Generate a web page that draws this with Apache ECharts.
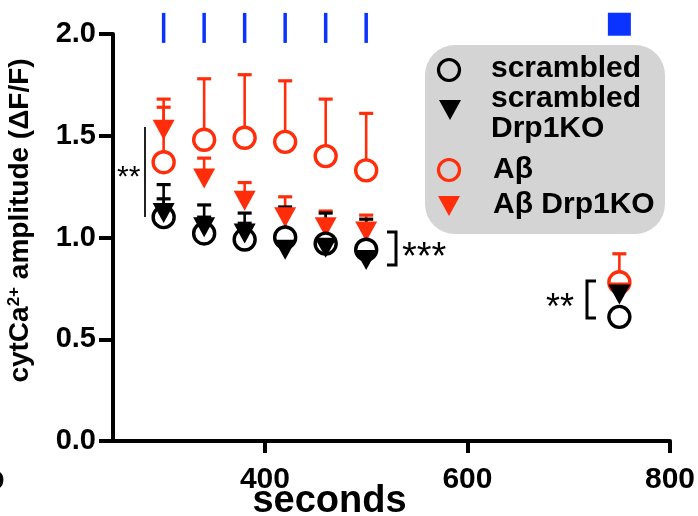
<!DOCTYPE html>
<html><head><meta charset="utf-8">
<script src="https://cdn.jsdelivr.net/npm/echarts@6/dist/echarts.min.js"></script>
<style>html,body{margin:0;padding:0;background:#fff}#c{width:698px;height:516px}</style>
</head><body><div id="c"></div>
<script>
// ---- data ----
const seconds = [300, 340, 380, 420, 460, 500, 750];
const scrambled      = [1.10, 1.02, 0.99, 1.00, 0.97, 0.94, 0.61];
const scrambledTop   = [1.26, 1.16, 1.12, 1.15, 1.12, 1.09, 0.64];
const scrambledKO    = [1.12, 1.05, 1.02, 0.94, 0.95, 0.89, 0.72];
const scrambledKOTop = [1.19, 1.10, 1.07, 1.02, 0.99, 0.95, 0.74];
const abeta          = [1.37, 1.48, 1.49, 1.47, 1.40, 1.33, 0.78];
const abetaTop       = [1.68, 1.78, 1.80, 1.77, 1.68, 1.61, 0.92];
const abetaKO        = [1.53, 1.29, 1.18, 1.10, 1.05, 1.03, 0.73];
const abetaKOTop     = [1.64, 1.39, 1.27, 1.20, 1.13, 1.11, 0.76];
const stimTimes = [300, 340, 380, 420, 460, 500];
const stimSquare = [750];
const xTicks = [400, 600, 800];

const RED = '#ff2d0a', BLACK = '#000', BLUE = '#0a33ff';
const FONT = '"Liberation Sans", Arial, sans-serif';

function pairs(xs, ys){ return xs.map((x,i)=>[x, ys[i]]); }
function errData(xs, ys, tops){ return xs.map((x,i)=>[x, ys[i], tops[i]]); }

function errSeries(name, xs, ys, tops, color){
  return {
    type:'custom', name: name+'-err', silent:true, z:2,
    data: errData(xs, ys, tops),
    renderItem:function(params, api){
      const p0 = api.coord([api.value(0), api.value(1)]);
      const p1 = api.coord([api.value(0), api.value(2)]);
      return {type:'group', children:[
        {type:'line', shape:{x1:p0[0], y1:p0[1], x2:p1[0], y2:p1[1]}, style:{stroke:color, lineWidth:2.6}},
        {type:'line', shape:{x1:p1[0]-7, y1:p1[1], x2:p1[0]+7, y2:p1[1]}, style:{stroke:color, lineWidth:3.2}}
      ]};
    }
  };
}
function circSeries(name, xs, ys, color){
  return {type:'scatter', name, data:pairs(xs,ys), symbol:'circle', symbolSize:21, z:3,
    itemStyle:{color:'#fff', borderColor:color, borderWidth:3.4, opacity:1}};
}
function triSeries(name, xs, ys, color){
  return {type:'scatter', name, data:pairs(xs,ys), symbol:'triangle', symbolRotate:180, symbolSize:[22,20], z:3,
    itemStyle:{color:color, opacity:1}};
}

const chart = echarts.init(document.getElementById('c'), null, {renderer:'canvas'});
const option = {
  animation:false,
  grid:{left:113, right:28, top:34, bottom:75, containLabel:false, outerBoundsMode:'none'},
  xAxis:{type:'value', min:250, max:800,
    axisLine:{show:true, onZero:false, lineStyle:{color:'#000', width:4}},
    axisTick:{show:true, length:12, lineStyle:{color:'#000', width:4}, customValues:xTicks},
    axisLabel:{customValues:xTicks, margin:24, color:'#000', fontFamily:FONT, fontWeight:'bold', fontSize:30},
    splitLine:{show:false},
    name:'seconds', nameLocation:'middle', nameGap:42, nameMoveOverlap:false,
    nameTextStyle:{color:'#000', fontFamily:FONT, fontWeight:'bold', fontSize:38, verticalAlign:'top', padding:[0,124,0,0]}
  },
  yAxis:{type:'value', min:0, max:2, interval:0.5,
    axisLine:{show:true, lineStyle:{color:'#000', width:4}},
    axisTick:{show:true, length:14, lineStyle:{color:'#000', width:4}},
    axisLabel:{margin:17, color:'#000', fontFamily:FONT, fontWeight:'bold', fontSize:29, formatter:v=>v.toFixed(1)},
    splitLine:{show:false},
    name:'cytCa{sup|2+} amplitude (ΔF/F)', nameLocation:'middle', nameRotate:90, nameGap:78, nameMoveOverlap:false,
    nameTextStyle:{color:'#000', fontFamily:FONT, fontWeight:'bold', fontSize:28, padding:[0,0,0,34],
      rich:{sup:{fontFamily:FONT, fontWeight:'bold', fontSize:17, color:'#000', verticalAlign:'top', padding:[0,0,12,0]}}}
  },
  series:[
    errSeries('Aβ', seconds, abeta, abetaTop, RED),
    circSeries('Aβ', seconds, abeta, RED),
    errSeries('Aβ Drp1KO', seconds, abetaKO, abetaKOTop, RED),
    triSeries('Aβ Drp1KO', seconds, abetaKO, RED),
    errSeries('scrambled', seconds, scrambled, scrambledTop, BLACK),
    circSeries('scrambled', seconds, scrambled, BLACK),
    errSeries('scrambled Drp1KO', seconds, scrambledKO, scrambledKOTop, BLACK),
    triSeries('scrambled Drp1KO', seconds, scrambledKO, BLACK),
    {type:'scatter', name:'stim', clip:false, silent:true, data:stimTimes.map(t=>[t,2.03]),
      symbol:'rect', symbolSize:[3.5,30], itemStyle:{color:BLUE, opacity:1}},
    {type:'scatter', name:'stim2', clip:false, silent:true, data:stimSquare.map(t=>[t,2.048]),
      symbol:'rect', symbolSize:[23,23], itemStyle:{color:BLUE, opacity:1}}
  ],
  graphic:[
    // legend box
    {type:'rect', shape:{x:425, y:45, width:240, height:189, r:30}, style:{fill:'#d4d4d4'}, z:10},
    {type:'circle', shape:{cx:449, cy:70, r:10.5}, style:{fill:'none', stroke:BLACK, lineWidth:3.2}, z:11},
    {type:'polygon', shape:{points:[[439,100],[461,100],[450,120]]}, style:{fill:BLACK}, z:11},
    {type:'circle', shape:{cx:449, cy:170, r:10.5}, style:{fill:'none', stroke:RED, lineWidth:3.2}, z:11},
    {type:'polygon', shape:{points:[[438,196],[460,196],[449,216]]}, style:{fill:RED}, z:11},
    {type:'text', left:491, top:54, style:{text:'scrambled', font:'bold 30px '+FONT, fill:'#000'}, z:11},
    {type:'text', left:491, top:84, style:{text:'scrambled', font:'bold 30px '+FONT, fill:'#000'}, z:11},
    {type:'text', left:491, top:114, style:{text:'Drp1KO', font:'bold 30px '+FONT, fill:'#000'}, z:11},
    {type:'text', left:493, top:155, style:{text:'Aβ', font:'bold 30px '+FONT, fill:'#000'}, z:11},
    {type:'text', left:493, top:190, style:{text:'Aβ Drp1KO', font:'bold 30px '+FONT, fill:'#000'}, z:11},
    // significance annotations
    {type:'line', shape:{x1:145, y1:127, x2:145, y2:217}, style:{stroke:'#222', lineWidth:2}, z:11},
    {type:'text', left:117, top:163, style:{text:'**', font:'30px '+FONT, fill:'#000'}, z:11},
    {type:'polyline', shape:{points:[[387,232],[396,232],[396,265],[387,265]]}, style:{stroke:'#000', lineWidth:3, fill:'none'}, z:11},
    {type:'text', left:402, top:240, style:{text:'***', font:'38px '+FONT, fill:'#000'}, z:11},
    {type:'polyline', shape:{points:[[596,281],[587,281],[587,318],[596,318]]}, style:{stroke:'#000', lineWidth:3, fill:'none'}, z:11},
    {type:'text', left:546, top:291, style:{text:'**', font:'36px '+FONT, fill:'#000'}, z:11},
    {type:'text', left:-17, top:467, style:{text:'D', font:'bold 30px '+FONT, fill:'#000'}, z:11}
  ]
};
chart.setOption(option);
</script></body></html>
